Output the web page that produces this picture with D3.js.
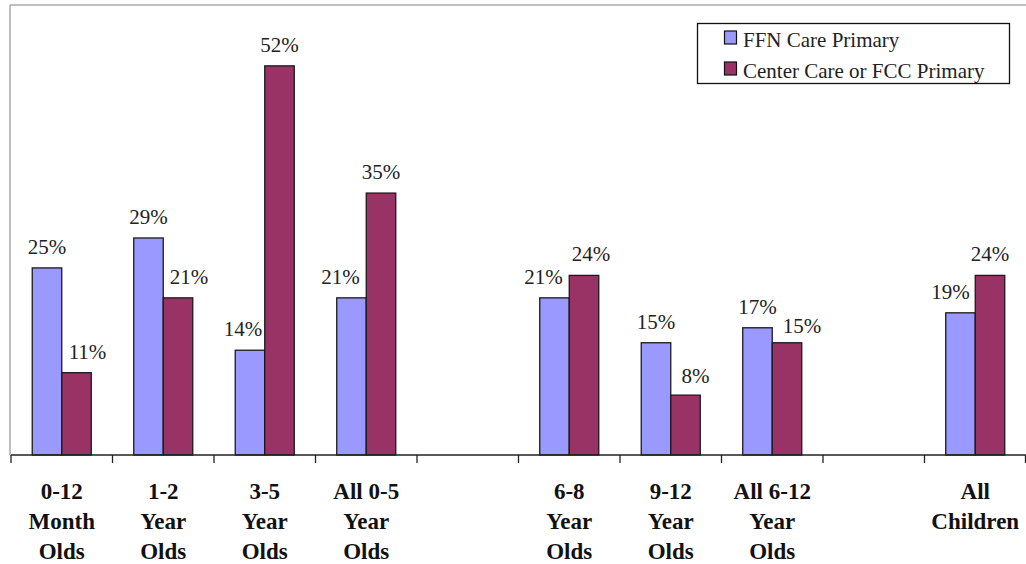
<!DOCTYPE html>
<html>
<head>
<meta charset="utf-8">
<script src="https://cdn.jsdelivr.net/npm/d3@7"></script>
<style>
  html, body { margin: 0; padding: 0; background: #fff; }
  svg { display: block; }
  svg text { font-family: "Liberation Serif", "Times New Roman", Tinos, "DejaVu Serif", serif; }
</style>
</head>
<body>
<svg id="chart" width="1026" height="564"></svg>
<script>
// Category slots (two empty slots separate the age groups)
const categories = [
  ["0-12", "Month", "Olds"],
  ["1-2", "Year", "Olds"],
  ["3-5", "Year", "Olds"],
  ["All 0-5", "Year", "Olds"],
  [],
  ["6-8", "Year", "Olds"],
  ["9-12", "Year", "Olds"],
  ["All 6-12", "Year", "Olds"],
  [],
  ["All", "Children"]
];
const seriesNames = ["FFN Care Primary", "Center Care or FCC Primary"];
const ffnValues    = [25, 29, 14, 21, null, 21, 15, 17, null, 19];
const centerValues = [11, 21, 52, 35, null, 24, 8, 15, null, 24];
const yDomain = [0, 60];

// Label offsets [dx, dy] where labels are pushed aside to avoid collisions
const ffnLabelShift    = [[0,0],[0,0],[-7,0],[-11,0],[0,0],[-11,0],[0,0],[0,0],[0,0],[-10,0]];
const centerLabelShift = [[11,0],[11,0],[0,0],[0,0],[0,0],[7,0],[10,2],[15,4],[0,0],[0,0]];

const colors = ["#9999FF", "#993366"];
const svg = d3.select("#chart");
const W = 1026, H = 564;
const plotLeft = 11, plotRight = 1026, plotTop = 6, plotBase = 455;

const x = d3.scaleBand().domain(d3.range(categories.length)).range([plotLeft, plotRight]).padding(0);
const xSub = d3.scaleBand().domain([0, 1]).range([0, x.bandwidth()]).paddingInner(0).paddingOuter(0.72);
const y = d3.scaleLinear().domain(yDomain).range([plotBase, plotTop]);

// Frame (top and left edges)
svg.append("line").attr("x1", plotLeft - 1).attr("x2", W).attr("y1", 5).attr("y2", 5)
  .attr("stroke", "#a8a8a8").attr("stroke-width", 1.5);
svg.append("line").attr("x1", plotLeft - 1).attr("x2", plotLeft - 1).attr("y1", 5).attr("y2", plotBase)
  .attr("stroke", "#a8a8a8").attr("stroke-width", 1.5);

// Bars
const series = [ffnValues, centerValues];
const shifts = [ffnLabelShift, centerLabelShift];
series.forEach((vals, si) => {
  const data = vals.map((v, i) => ({ i, v })).filter(d => d.v != null);
  svg.append("g").selectAll("rect").data(data).join("rect")
    .attr("x", d => x(d.i) + xSub(si))
    .attr("y", d => y(d.v))
    .attr("width", xSub.bandwidth())
    .attr("height", d => y(0) - y(d.v))
    .attr("fill", colors[si])
    .attr("stroke", "#1a1a1a")
    .attr("stroke-width", 1.3);
  svg.append("g").selectAll("text").data(data).join("text")
    .attr("x", d => x(d.i) + xSub(si) + xSub.bandwidth() / 2 + shifts[si][d.i][0])
    .attr("y", d => y(d.v) - 14 + shifts[si][d.i][1])
    .attr("text-anchor", "middle")
    .attr("font-size", 21)
    .attr("fill", "#222")
    .text(d => d.v + "%");
});

// X axis with ticks between slots
const xAxis = svg.append("g");
xAxis.append("line").attr("x1", plotLeft).attr("x2", plotRight).attr("y1", plotBase).attr("y2", plotBase)
  .attr("stroke", "#222").attr("stroke-width", 1.3);
xAxis.selectAll("line.tick").data(d3.range(categories.length + 1)).join("line")
  .attr("class", "tick")
  .attr("x1", i => i < categories.length ? x(i) : plotRight - 0.5)
  .attr("x2", i => i < categories.length ? x(i) : plotRight - 0.5)
  .attr("y1", plotBase).attr("y2", plotBase + 8)
  .attr("stroke", "#222").attr("stroke-width", 1.3);

// Category labels
const catG = svg.append("g")
  .attr("font-weight", "bold")
  .attr("font-size", 23)
  .attr("fill", "#111")
  .attr("text-anchor", "middle");
categories.forEach((lines, i) => {
  const cx = x(i) + x.bandwidth() / 2;
  lines.forEach((ln, k) => {
    catG.append("text").attr("x", cx).attr("y", 499 + k * 30).text(ln);
  });
});

// Legend
const lg = svg.append("g");
lg.append("rect").attr("x", 697.5).attr("y", 23.5).attr("width", 312).attr("height", 60)
  .attr("fill", "#fff").attr("stroke", "#111").attr("stroke-width", 1.3);
seriesNames.forEach((name, si) => {
  const yy = 31 + si * 31;
  lg.append("rect").attr("x", 724.5).attr("y", yy).attr("width", 12).attr("height", 13)
    .attr("fill", colors[si]).attr("stroke", "#111").attr("stroke-width", 1.2);
  lg.append("text").attr("x", 743).attr("y", yy + 16)
    .attr("font-size", 21).attr("fill", "#222").text(name);
});
</script>
</body>
</html>
